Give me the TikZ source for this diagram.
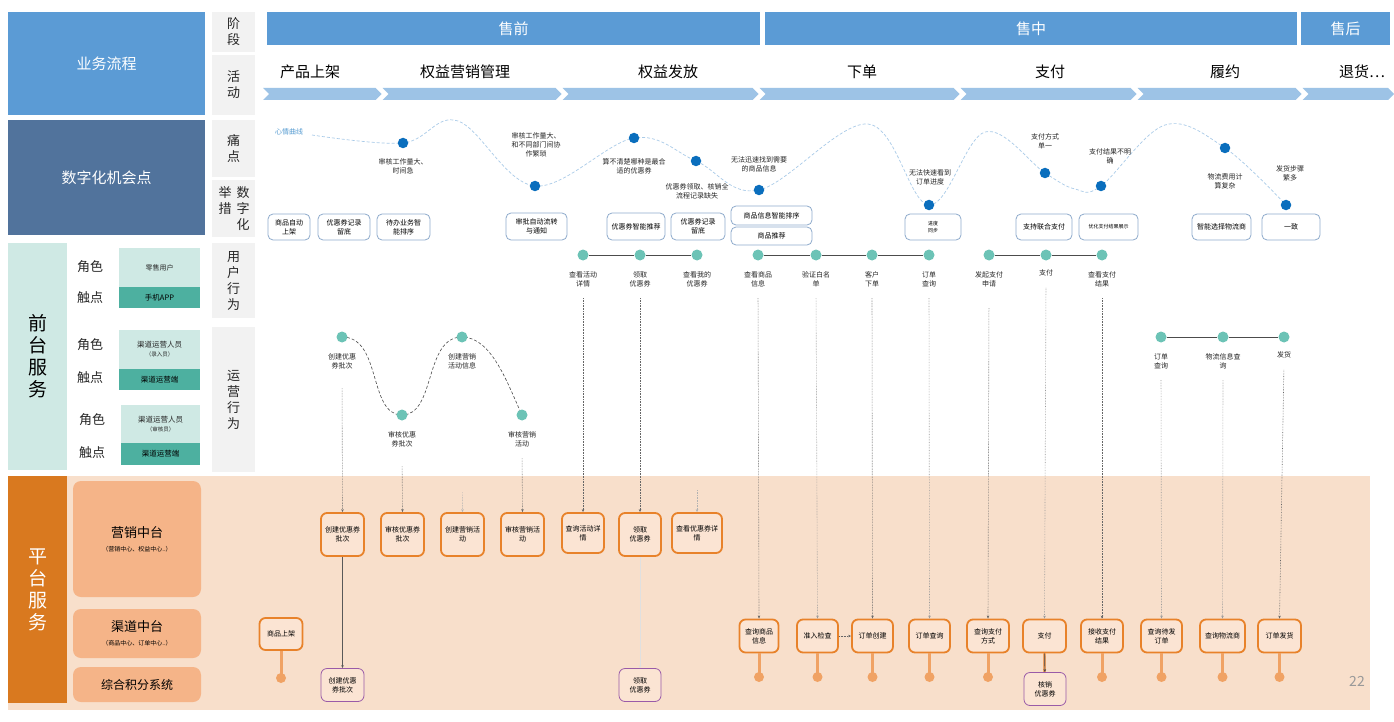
\documentclass[tikz,border=0pt]{standalone}
\usepackage{fontspec}
\setmainfont{Noto Sans CJK SC}
\usetikzlibrary{arrows.meta}
\definecolor{hdblue}{HTML}{5B9BD5}
\definecolor{dkblue}{HTML}{51739C}
\definecolor{labgray}{HTML}{F2F2F2}
\definecolor{tealL}{HTML}{CFE9E4}
\definecolor{tealD}{HTML}{4DB0A0}
\definecolor{tealDot}{HTML}{6CC3B6}
\definecolor{painDot}{HTML}{0A6EBD}
\definecolor{painLine}{HTML}{A9CBE8}
\definecolor{measBd}{HTML}{8EAACC}
\definecolor{platBg}{HTML}{F8DFCB}
\definecolor{platBar}{HTML}{D9791F}
\definecolor{midBox}{HTML}{F5B488}
\definecolor{boxBd}{HTML}{E8822A}
\definecolor{boxFill}{HTML}{FBE4D3}
\definecolor{stemC}{HTML}{F0A264}
\definecolor{purp}{HTML}{9A5BA8}
\definecolor{chev}{HTML}{9DC3E6}
\tikzset{
  sm/.style={font=\fontsize{7}{9}\selectfont, align=center, text=black!85},
  lblbox/.style={fill=labgray, minimum width=43, inner sep=0, align=center, font=\fontsize{13}{16}\selectfont, text=black!85},
  meas/.style={draw=measBd, line width=0.8pt, rounded corners=5, fill=white, inner sep=1pt, align=center, font=\fontsize{7}{9}\selectfont},
  pdot/.style={circle, fill=painDot, inner sep=0, minimum size=10.5},
  udot/.style={circle, fill=tealDot, inner sep=0, minimum size=11},
  pbox/.style={draw=boxBd, line width=1.8pt, rounded corners=6, fill=boxFill, inner sep=1pt, align=center, font=\fontsize{7}{9}\selectfont},
  ppbox/.style={draw=purp, line width=0.8pt, rounded corners=6, fill=boxFill, inner sep=1pt, align=center, font=\fontsize{7}{9}\selectfont},
  conn/.style={densely dotted, draw=black!60, line width=0.6pt, -{Stealth[length=3pt,width=2.5pt]}},
  stem/.style={draw=stemC, line width=3pt},
  sdot/.style={circle, fill=stemC, inner sep=0, minimum size=10},
  uline/.style={draw=black!70, line width=0.8pt},
  role/.style={font=\fontsize{13}{16}\selectfont, text=black!85},
}
\begin{document}
\begin{tikzpicture}[x=1pt,y=-1pt]
\useasboundingbox (0,0) rectangle (1394,722);
\fill[white] (0,0) rectangle (1394,722);

% ===== left title blocks
\node[fill=hdblue, minimum width=197, minimum height=103, inner sep=0, text=white, font=\fontsize{15}{18}\selectfont] (yw) at (106.5,63.5) {业务流程};
\node[fill=dkblue, minimum width=197, minimum height=115, inner sep=0, text=white, font=\fontsize{15}{18}\selectfont] (sz) at (106.5,177.5) {数字化机会点};

% ===== label column
\node[lblbox, minimum height=40] (L1) at (233.5,32) {阶\\段};
\node[lblbox, minimum height=60] (L2) at (233.5,85) {活\\动};
\node[lblbox, minimum height=57] (L3) at (233.5,148.5) {痛\\点};
\node[lblbox, minimum height=57] (L4) at (233.5,208.5) {};
\node[font=\fontsize{13}{16}\selectfont, align=center, text=black!85, inner sep=0] (L4a) at (225,200.5) {举\\措};
\node[font=\fontsize{13}{16}\selectfont, align=center, text=black!85, inner sep=0] (L4b) at (243,208.5) {数\\字\\化};
\node[lblbox, minimum height=75] (L5) at (233.5,280.5) {用\\户\\行\\为};
\node[lblbox, minimum height=145] (L6) at (233.5,399.5) {运\\营\\行\\为};

% ===== header bars
\node[fill=hdblue, minimum width=493, minimum height=33, inner sep=0, text=white, font=\fontsize{15}{18}\selectfont] (sq) at (513.5,28.5) {售前};
\node[fill=hdblue, minimum width=532, minimum height=33, inner sep=0, text=white, font=\fontsize{15}{18}\selectfont] (sz2) at (1031,28.5) {售中};
\node[fill=hdblue, minimum width=89, minimum height=33, inner sep=0, text=white, font=\fontsize{15}{18}\selectfont] (sh) at (1345.5,28.5) {售后};

% activities
\foreach \x/\t/\n in {310/产品上架/a1, 465/权益营销管理/a2, 668/权益发放/a3, 862/下单/a4, 1050/支付/a5, 1225/履约/a6, 1362/退货…/a7}
  \node[font=\fontsize{15}{18}\selectfont, text=black] (\n) at (\x,72) {\t};

% chevron band
\foreach \a/\b in {263/381.5, 382.5/561.5, 562.5/758.5, 759.5/959.5, 960.5/1136.5, 1137.5/1301.5, 1302.5/1394}{
  \fill[chev] (\a,88) -- (\b-6,88) -- (\b,94) -- (\b-6,100) -- (\a,100) -- (\a+6,94) -- cycle;
}

% ===== pain curve
\draw[painLine, densely dashed, line width=0.7pt] plot[smooth, tension=0.6] coordinates {(312,135) (403,143) (458,121) (535,186) (634,138) (696,161) (759,190) (868,124) (929,205) (985,132) (1045,173) (1075,189) (1101,186) (1165,125) (1225,148) (1286,205)};
\node[font=\fontsize{7}{9}\selectfont, text=painDot!70] (mood) at (289,132) {心情曲线};
\node[pdot] (p1) at (403,143) {};
\node[pdot] (p2) at (535,186) {};
\node[pdot] (p3) at (634,138) {};
\node[pdot] (p4) at (696,161) {};
\node[pdot] (p5) at (759,190) {};
\node[pdot] (p6) at (929,205) {};
\node[pdot] (p7) at (1045,173) {};
\node[pdot] (p8) at (1101,186) {};
\node[pdot] (p9) at (1225,148) {};
\node[pdot] (p10) at (1286,205) {};
\node[sm] (pt1) at (403,166) {审核工作量大、\\时间急};
\node[sm] (pt2) at (536,145) {审核工作量大、\\和不同部门间协\\作繁琐};
\node[sm] (pt3) at (634,166) {算不清楚哪种是最合\\适的优惠券};
\node[sm] (pt4) at (697,191) {优惠券领取、核销全\\流程记录缺失};
\node[sm] (pt5) at (759,164) {无法迅速找到需要\\的商品信息};
\node[sm] (pt6) at (930,177) {无法快速看到\\订单进度};
\node[sm] (pt7) at (1045,141) {支付方式\\单一};
\node[sm] (pt8) at (1110,156) {支付结果不明\\确};
\node[sm] (pt9) at (1225,181) {物流费用计\\算复杂};
\node[sm] (pt10) at (1290,173) {发货步骤\\繁多};

% ===== measures
\node[meas, minimum width=42, minimum height=26] (m1) at (289,227) {商品自动\\上架};
\node[meas, minimum width=52, minimum height=26] (m2) at (344,227) {优惠券记录\\留底};
\node[meas, minimum width=53, minimum height=26] (m3) at (403.5,227) {待办业务智\\能排序};
\node[meas, minimum width=61, minimum height=27] (m4) at (536.5,226.5) {审批自动流转\\与通知};
\node[meas, minimum width=58, minimum height=27] (m5) at (636,226.5) {优惠券智能推荐};
\node[meas, minimum width=54, minimum height=27] (m6) at (698,226.5) {优惠券记录\\留底};
\node[meas, minimum width=81, minimum height=19] (m7) at (771.5,215.5) {商品信息智能排序};
\node[meas, minimum width=81, minimum height=18] (m8) at (771.5,236) {商品推荐};
\node[meas, minimum width=56, minimum height=26, font=\fontsize{5}{6.5}\selectfont] (m9) at (933,227) {进度\\同步};
\node[meas, minimum width=56, minimum height=26] (m10) at (1044,227) {支持联合支付};
\node[meas, minimum width=59, minimum height=26, font=\fontsize{5}{6.5}\selectfont] (m11) at (1108.5,227) {优化支付结果展示};
\node[meas, minimum width=59, minimum height=26] (m12) at (1221.5,227) {智能选择物流商};
\node[meas, minimum width=58, minimum height=26] (m13) at (1291,227) {一致};

% ===== front services
\node[fill=tealL, minimum width=59, minimum height=227, inner sep=0, align=center, font=\fontsize{19}{22}\selectfont, text=black] (qt) at (37.5,356.5) {前\\台\\服\\务};
\node[role] (r1) at (90,267) {角色};
\node[role] (t1) at (90,298) {触点};
\node[role] (r2) at (90,345) {角色};
\node[role] (t2) at (90,378) {触点};
\node[role] (r3) at (92,420) {角色};
\node[role] (t3) at (92,453) {触点};
\node[fill=tealL, minimum width=81, minimum height=39, inner sep=0, sm] (rb1) at (159.5,267.5) {零售用户};
\node[fill=tealD, minimum width=81, minimum height=21, inner sep=0, font=\fontsize{7.5}{9}\selectfont, text=black] (tb1) at (159.5,297.5) {手机APP};
\node[fill=tealL, minimum width=81, minimum height=39, inner sep=0, align=center, font=\fontsize{7.5}{9}\selectfont, text=black!85] (rb2) at (159.5,349.5) {渠道运营人员\\{\fontsize{5.5}{7}\selectfont（录入员）}};
\node[fill=tealD, minimum width=81, minimum height=21, inner sep=0, font=\fontsize{7.5}{9}\selectfont, text=black] (tb2) at (159.5,379.5) {渠道运营端};
\node[fill=tealL, minimum width=79, minimum height=38, inner sep=0, align=center, font=\fontsize{7.5}{9}\selectfont, text=black!85] (rb3) at (160.5,424) {渠道运营人员\\{\fontsize{5.5}{7}\selectfont（审核员）}};
\node[fill=tealD, minimum width=79, minimum height=22, inner sep=0, font=\fontsize{7.5}{9}\selectfont, text=black] (tb3) at (160.5,454) {渠道运营端};

% ===== user behaviour
\foreach \n/\x in {u1/583, u2/640, u3/697, u4/758, u5/816, u6/872, u7/929, u8/989, u9/1046, u10/1102}
  \node[udot] (\n) at (\x,255) {};
\draw[uline] (u1) -- (u2);
\draw[uline] (u2) -- (u3);
\draw[uline] (u4) -- (u5);
\draw[uline] (u5) -- (u6);
\draw[uline] (u6) -- (u7);
\draw[uline] (u8) -- (u9);
\draw[uline] (u9) -- (u10);
\node[sm] (u1l) at (583,279) {查看活动\\详情};
\node[sm] (u2l) at (640,279) {领取\\优惠券};
\node[sm] (u3l) at (697,279) {查看我的\\优惠券};
\node[sm] (u4l) at (758,279) {查看商品\\信息};
\node[sm] (u5l) at (816,279) {验证白名\\单};
\node[sm] (u6l) at (872,279) {客户\\下单};
\node[sm] (u7l) at (929,279) {订单\\查询};
\node[sm] (u8l) at (989,279) {发起支付\\申请};
\node[sm] (u9l) at (1046,273) {支付};
\node[sm] (u10l) at (1102,279) {查看支付\\结果};

% ===== ops behaviour
\draw[black!70, densely dashed, line width=0.6pt] (342,337) .. controls (382,337) and (368,415) .. (402,415) .. controls (436,415) and (424,337) .. (462,337) .. controls (492,337) and (508,385) .. (522,415);
\node[udot] (o1) at (342,337) {};
\node[udot] (o2) at (402,415) {};
\node[udot] (o3) at (462,337) {};
\node[udot] (o4) at (522,415) {};
\node[sm] (o1l) at (342,361) {创建优惠\\券批次};
\node[sm] (o2l) at (402,439) {审核优惠\\券批次};
\node[sm] (o3l) at (462,361) {创建营销\\活动信息};
\node[sm] (o4l) at (522,439) {审核营销\\活动};
\node[udot] (o5) at (1161,337) {};
\node[udot] (o6) at (1223,337) {};
\node[udot] (o7) at (1284,337) {};
\draw[uline] (o5) -- (o6);
\draw[uline] (o6) -- (o7);
\node[sm] (o5l) at (1161,361) {订单\\查询};
\node[sm] (o6l) at (1223,361) {物流信息查\\询};
\node[sm] (o7l) at (1284,355) {发货};

% ===== platform
\fill[platBg] (8,476) rectangle (1370,710);
\node[fill=platBar, minimum width=59, minimum height=227, inner sep=0, align=center, font=\fontsize{19}{22}\selectfont, text=white] (pt) at (37.5,589.5) {平\\台\\服\\务};
\node[fill=midBox, rounded corners=8, minimum width=128, minimum height=116, inner sep=0, align=center, font=\fontsize{13}{16}\selectfont, text=black] (yx) at (137,539) {营销中台\\[-2pt]{\fontsize{6}{8}\selectfont（营销中心、权益中心..）}};
\node[fill=midBox, rounded corners=8, minimum width=128, minimum height=49, inner sep=0, align=center, font=\fontsize{13}{16}\selectfont, text=black] (qd) at (137,633.5) {渠道中台\\[-2pt]{\fontsize{6}{8}\selectfont（商品中心、订单中心..）}};
\node[fill=midBox, rounded corners=8, minimum width=128, minimum height=35, inner sep=0, font=\fontsize{12}{15}\selectfont, text=black] (jf) at (137,684.5) {综合积分系统};

% marketing boxes
\node[pbox, minimum width=43, minimum height=43] (mb1) at (342.5,534.5) {创建优惠券\\批次};
\node[pbox, minimum width=43, minimum height=43] (mb2) at (402.5,534.5) {审核优惠券\\批次};
\node[pbox, minimum width=43, minimum height=43] (mb3) at (462.5,534.5) {创建营销活\\动};
\node[pbox, minimum width=43, minimum height=43] (mb4) at (522.5,534.5) {审核营销活\\动};
\node[pbox, minimum width=42, minimum height=40] (mb5) at (583,533) {查询活动详\\情};
\node[pbox, minimum width=42, minimum height=43] (mb6) at (640,534.5) {领取\\优惠券};
\node[pbox, minimum width=50, minimum height=40] (mb7) at (697,533) {查看优惠券详\\情};

% product on shelf
\node[pbox, minimum width=43, minimum height=32] (sj) at (281,634) {商品上架};
\node[sdot] (sjd) at (281,678) {};
\draw[stem] (sj.south) -- (sjd.center);

% channel boxes
\foreach \n/\x/\w/\t in {cb1/759/39/查询商品\\信息, cb2/817.5/41/准入检查, cb3/872.5/41/订单创建, cb4/929.5/41/订单查询, cb5/988/42/查询支付\\方式, cb6/1044.5/43/支付, cb7/1102/42/接收支付\\结果, cb8/1161.5/41/查询待发\\订单, cb9/1222.5/45/查询物流商, cb10/1279.5/43/订单发货}{
  \node[pbox, minimum width=\w, minimum height=33] (\n) at (\x,636) {\t};
  \node[sdot] (\n d) at (\x,677) {};
  \draw[stem] (\n.south) -- (\n d.center);
}
\draw[conn] (cb2) -- (cb3);

% purple boxes
\node[ppbox, minimum width=43, minimum height=33] (pb1) at (342.5,685) {创建优惠\\券批次};
\node[ppbox, minimum width=42, minimum height=33] (pb2) at (640,685) {领取\\优惠券};
\node[ppbox, minimum width=42, minimum height=33] (pb3) at (1045,689) {核销\\优惠券};
\draw[draw=black!65, line width=0.7pt, -{Stealth[length=3pt,width=2.5pt]}] (mb1) -- (pb1);
\draw[draw=black!12, line width=0.5pt, -{Stealth[length=3pt,width=2.5pt]}] (mb6) -- (pb2);
\draw[draw=black!75, line width=0.6pt, -{Stealth[length=3pt,width=2.5pt]}] (cb6) -- (pb3);

% ===== vertical connectors behaviour -> platform
\draw[conn, shorten <=16pt] (o1l.south) -- (mb1.north);
\draw[conn, shorten <=16pt] (o2l.south) -- (mb2.north);
\draw[conn, shorten <=120pt, draw=black!30] (o3l.south) -- (mb3.north);
\draw[conn, shorten <=8pt] (o4l.south) -- (mb4.north);
\draw[conn, shorten <=8pt] (u1l.south) -- (mb5.north);
\draw[conn, shorten <=8pt] (u2l.south) -- (mb6.north);
\draw[conn, shorten <=200pt, draw=black!30] (u3l.south) -- (mb7.north);
\draw[conn, shorten <=8pt] (u4l.south) -- (cb1.north);
\draw[conn, shorten <=8pt, draw=black!40] (u5l.south) -- (cb2.north);
\draw[conn, shorten <=8pt] (u6l.south) -- (cb3.north);
\draw[conn, shorten <=8pt, draw=black!40] (u7l.south) -- (cb4.north);
\draw[conn, shorten <=18pt] (u8l.south) -- (cb5.north);
\draw[conn, shorten <=8pt, draw=black!40] (u9l.south) -- (cb6.north);
\draw[conn, shorten <=8pt] (u10l.south) -- (cb7.north);
\draw[conn, shorten <=8pt, draw=black!40] (o5l.south) -- (cb8.north);
\draw[conn, shorten <=8pt, draw=black!40] (o6l.south) -- (cb9.north);
\draw[conn, shorten <=8pt] (o7l.south) -- (cb10.north);

% page number
\node[font=\fontsize{14}{16}\selectfont, text=black!40] (pg) at (1357,681) {22};
\end{tikzpicture}
\end{document}
